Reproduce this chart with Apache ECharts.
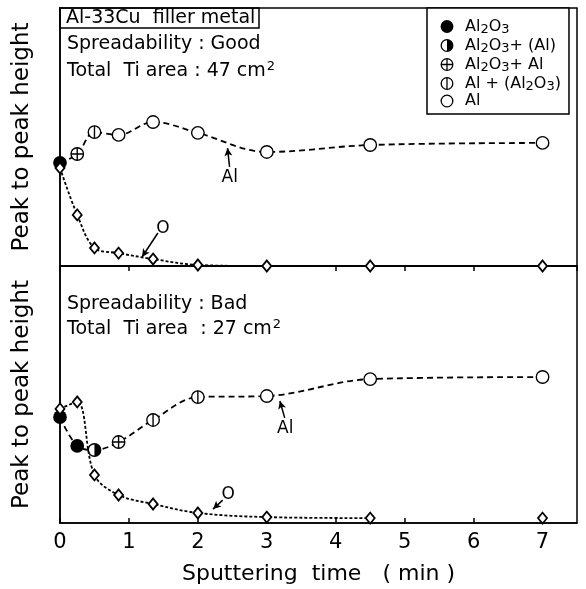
<!DOCTYPE html>
<html>
<head>
<meta charset="utf-8">
<script src="https://cdn.jsdelivr.net/npm/echarts@6/dist/echarts.min.js"></script>
<style>
  html, body { margin: 0; padding: 0; background: #fff; }
  #main { width: 586px; height: 589px; }
</style>
</head>
<body>
<div id="main"></div>
<script>
// 溅射时间 (min)
var times = [0, 0.25, 0.5, 0.85, 1.35, 2, 3, 4.5, 7];
// 上图 Spreadability : Good
var goodAl = [40, 43.4, 51.9, 50.8, 55.8, 51.6, 44.2, 46.9, 47.7];
var goodPhase = [0, 2, 3, 4, 4, 4, 4, 4, 4];
var goodO = [38, 19.8, 7, 5, 2.7, 0.4, 0, 0, 0];
// 下图 Spreadability : Bad
var badAl = [41.2, 30, 28.4, 31.5, 40.1, 49, 49.4, 56, 56.8];
var badPhase = [0, 0, 1, 2, 3, 3, 4, 4, 4];
var badO = [44.4, 47.1, 18.7, 10.9, 7.4, 3.9, 2.3, 1.9, 1.9];
// O 的虚线只画到 4.5 min
var oLineCount = 8;
// 图例
var phaseNames = ['Al2O3', 'Al2O3+ (Al)', 'Al2O3+ Al', 'Al + (Al2O3)', 'Al'];
var phaseLabels = ['Al{s|2}O{s|3}', 'Al{s|2}O{s|3}+ (Al)', 'Al{s|2}O{s|3}+ Al', 'Al + (Al{s|2}O{s|3})', 'Al'];
var xTicks = ['0', '1', '2', '3', '4', '5', '6', '7'];

var FONT = 'DejaVu Sans';

// 标记符号 (svg)
function svgSym(inner) {
  var s = '<svg xmlns="http://www.w3.org/2000/svg" width="24" height="24" viewBox="0 0 24 24">' + inner + '</svg>';
  return 'image://data:image/svg+xml;utf8,' + encodeURIComponent(s);
}
var ring = '<circle cx="12" cy="12" r="10" fill="#fff" stroke="#000" stroke-width="2.2"/>';
var phaseSymbols = [
  svgSym('<circle cx="12" cy="12" r="11" fill="#000"/>'),
  svgSym(ring + '<path d="M12,2 A10,10 0 0 1 12,22 Z" fill="#000"/>'),
  svgSym(ring + '<path d="M2,12 H22 M12,2 V22" stroke="#000" stroke-width="2.2"/>'),
  svgSym(ring + '<path d="M12,2 V22" stroke="#000" stroke-width="2.2"/>'),
  svgSym(ring)
];

function alData(vals, phases) {
  return times.map(function (t, i) {
    return { value: [t, vals[i]], symbol: phaseSymbols[phases[i]] };
  });
}
function oData(vals, n) {
  return times.slice(0, n).map(function (t, i) { return [t, vals[i]]; });
}

function arrow(from, to, text, offset) {
  return {
    silent: true,
    symbol: ['none', 'arrow'],
    symbolSize: [6, 8],
    lineStyle: { color: '#000', type: 'solid', width: 1.5 },
    label: {
      show: true, position: 'start', formatter: text, color: '#000',
      fontFamily: FONT, fontSize: 17, distance: 2, offset: offset || [0, 0]
    },
    data: [[{ coord: from }, { coord: to }]]
  };
}

var chart = echarts.init(document.getElementById('main'));

function xAxisOf(gi, showLabel) {
  return {
    type: 'value', gridIndex: gi, min: 0, max: 7.5, interval: 1,
    axisLine: { show: true, lineStyle: { color: '#000', width: 1.5 } },
    axisTick: { show: true, inside: showLabel, length: 5, lineStyle: { color: '#000', width: 1.5 } },
    splitLine: { show: false },
    axisLabel: {
      show: showLabel, margin: 9, color: '#000', fontFamily: FONT, fontSize: 21,
      showMaxLabel: false,
      formatter: function (v) { return Number.isInteger(v) ? xTicks[v] : ''; }
    },
    name: showLabel ? 'Sputtering  time   ( min )' : '',
    nameLocation: 'middle', nameGap: 40,
    nameTextStyle: { color: '#000', fontFamily: FONT, fontSize: 22 }
  };
}
function yAxisOf(gi) {
  return {
    type: 'value', gridIndex: gi, min: 0, max: 100,
    axisLine: { show: true, lineStyle: { color: '#000', width: 1.5 } },
    axisTick: { show: false }, axisLabel: { show: false }, splitLine: { show: false },
    name: 'Peak to peak height', nameLocation: 'middle', nameRotate: 90, nameGap: 26,
    nameTextStyle: { color: '#000', fontFamily: FONT, fontSize: 23 }
  };
}

var alLine = { color: '#000', type: [6, 4], width: 1.8 };
var oLine = { color: '#000', type: [3, 2], width: 1.8 };
var diamondStyle = { color: '#fff', borderColor: '#000', borderWidth: 1.8, opacity: 1 };
var plain = { color: '#000', fontFamily: FONT, fontWeight: 'normal' };
var supStyle = { fontSize: 13, fontFamily: FONT, color: '#000', padding: [0, 0, 9, 1] };

var option = {
  animation: false,
  backgroundColor: '#fff',
  grid: [
    { left: 60, top: 8, width: 517, height: 258, show: true, borderColor: '#000', borderWidth: 1.5 },
    { left: 60, top: 266, width: 517, height: 257, show: true, borderColor: '#000', borderWidth: 1.5 }
  ],
  xAxis: [xAxisOf(0, false), xAxisOf(1, true)],
  yAxis: [yAxisOf(0), yAxisOf(1)],
  title: [
    {
      text: 'Al-33Cu  filler metal', left: 60, top: 8,
      padding: [1, 4, 0, 6], borderColor: '#000', borderWidth: 1.5,
      textStyle: Object.assign({ fontSize: 19 }, plain)
    },
    {
      text: 'Spreadability : Good\nTotal  Ti area : 47 cm{sup|2}', left: 67, top: 31, padding: 0,
      textStyle: Object.assign({ fontSize: 19, lineHeight: 27, rich: { sup: supStyle } }, plain)
    },
    {
      text: 'Spreadability : Bad\nTotal  Ti area  : 27 cm{sup|2}', left: 67, top: 292, padding: 0,
      textStyle: Object.assign({ fontSize: 19, lineHeight: 25, rich: { sup: supStyle } }, plain)
    }
  ],
  legend: {
    orient: 'vertical', left: 427, top: 8,
    padding: [9, 8, 5, 13], itemGap: 0, itemWidth: 14, itemHeight: 14,
    borderColor: '#000', borderWidth: 1.5, backgroundColor: '#fff',
    selectedMode: false,
    formatter: function (name) { return phaseLabels[phaseNames.indexOf(name)]; },
    textStyle: {
      color: '#000', fontFamily: FONT, fontSize: 16, lineHeight: 15, padding: [0, 0, 0, 6],
      rich: { s: { fontSize: 13, lineHeight: 11, fontFamily: FONT, color: '#000', padding: [6, 0, 0, 0] } }
    },
    data: phaseNames.map(function (n, i) { return { name: n, icon: phaseSymbols[i] }; })
  },
  series: [
    {
      type: 'line', xAxisIndex: 0, yAxisIndex: 0, data: alData(goodAl, goodPhase),
      symbolSize: 15, smooth: 0.35, clip: false, lineStyle: alLine, z: 3,
      markLine: arrow([2.46, 38.4], [2.43, 45.7], 'Al', [0, 0])
    },
    {
      type: 'line', xAxisIndex: 0, yAxisIndex: 0, data: oData(goodO, oLineCount),
      showSymbol: false, smooth: 0.35, clip: false, lineStyle: oLine, z: 4,
      markLine: arrow([1.42, 12.8], [1.19, 3.5], 'O', [4, 6])
    },
    {
      type: 'scatter', xAxisIndex: 0, yAxisIndex: 0, data: oData(goodO, times.length),
      symbol: 'diamond', symbolSize: [9, 11], clip: false, z: 5, itemStyle: diamondStyle
    },
    {
      type: 'line', xAxisIndex: 1, yAxisIndex: 1, data: alData(badAl, badPhase),
      symbolSize: 15, smooth: 0.35, clip: false, lineStyle: alLine, z: 3,
      markLine: arrow([3.26, 40.9], [3.19, 47.5], 'Al', [0, 0])
    },
    {
      type: 'line', xAxisIndex: 1, yAxisIndex: 1, data: oData(badO, oLineCount),
      showSymbol: false, smooth: 0.35, clip: false, lineStyle: oLine, z: 4,
      markLine: arrow([2.36, 8.9], [2.22, 5.4], 'O', [4, -4])
    },
    {
      type: 'scatter', xAxisIndex: 1, yAxisIndex: 1, data: oData(badO, times.length),
      symbol: 'diamond', symbolSize: [9, 11], clip: false, z: 5, itemStyle: diamondStyle
    }
  ].concat(phaseNames.map(function (n, i) {
    return { type: 'line', name: n, data: [], symbol: phaseSymbols[i], xAxisIndex: 0, yAxisIndex: 0 };
  }))
};

chart.setOption(option);
</script>
</body>
</html>
